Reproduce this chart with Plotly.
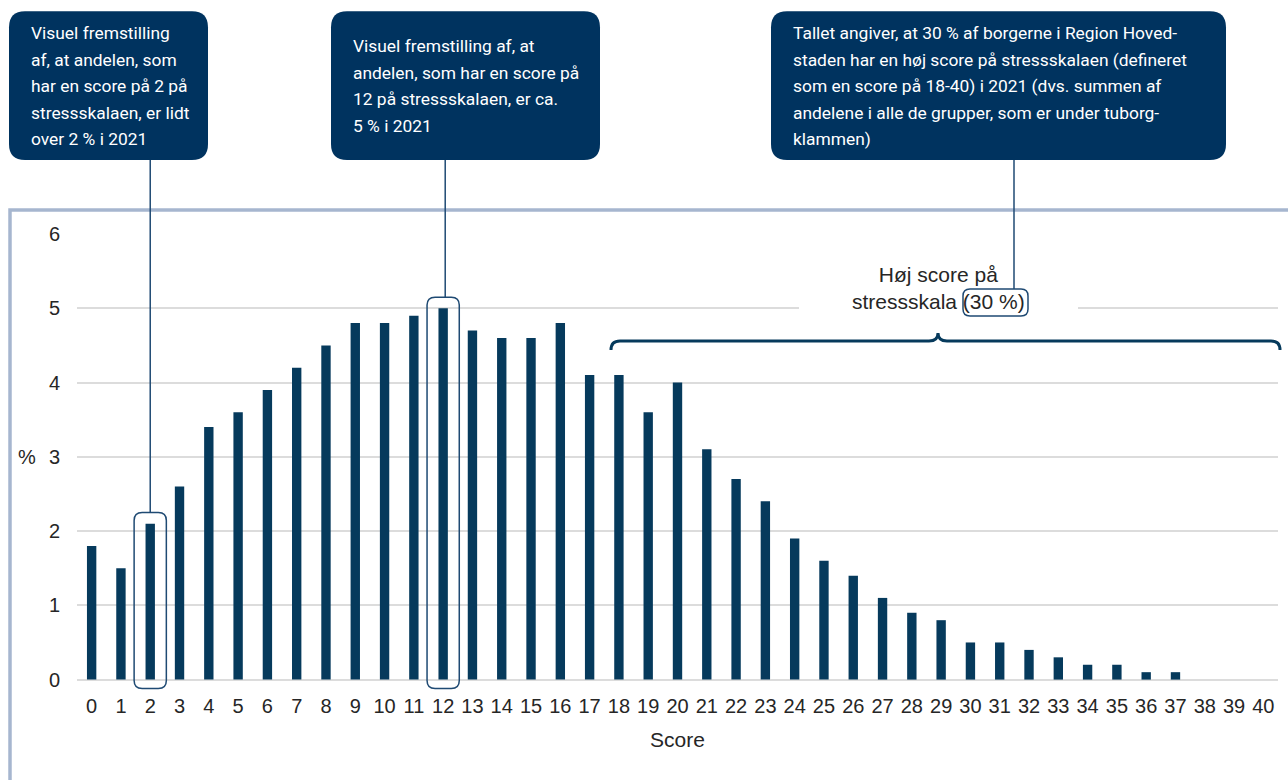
import plotly.graph_objects as go

# Share of respondents (%) by score on the stress scale, 2021
scores = list(range(0, 41))
shares = [1.8, 1.5, 2.1, 2.6, 3.4, 3.6, 3.9, 4.2, 4.5, 4.8,
          4.8, 4.9, 5.0, 4.7, 4.6, 4.6, 4.8, 4.1, 4.1, 3.6,
          4.0, 3.1, 2.7, 2.4, 1.9, 1.6, 1.4, 1.1, 0.9, 0.8,
          0.5, 0.5, 0.4, 0.3, 0.2, 0.2, 0.1, 0.1, 0.0, 0.0, 0.0]
y_ticks = [0, 1, 2, 3, 4, 5, 6]
high_from = 18
high_total = 30

box1_lines = ["Visuel fremstilling", "af, at andelen, som", "har en score på 2 på",
              "stressskalaen, er lidt", "over 2 % i 2021"]
box2_lines = ["Visuel fremstilling af, at", "andelen, som har en score på",
              "12 på stressskalaen, er ca.", "5 % i 2021"]
box3_lines = ["Tallet angiver, at 30 % af borgerne i Region Hoved-",
              "staden har en høj score på stressskalaen (defineret",
              "som en score på 18-40) i 2021 (dvs. summen af",
              "andelene i alle de grupper, som er under tuborg-",
              "klammen)"]

W, H = 1288, 780
PL, PR, PT = 77, 1278, 234
Y_MIN, Y_MAX = -0.14, 6.0
UNIT = 446 / 6.0
PB = PT + (Y_MAX - Y_MIN) * UNIT
X_UNIT = (PR - PL) / 41.0

BAR = "#063a5c"
NAVY = "#00335f"
LINE = "#1f4a73"
FRAME = "#a6b6cf"
GRID = "#dcdcdc"
TXT = "#262626"
FONT = "Liberation Sans, Arial"


def px(x):
    return (x - PL) / (PR - PL)


def py(y):
    return (PB - y) / (PB - PT)


def data_to_paper_y(v):
    return (v - Y_MIN) / (Y_MAX - Y_MIN)


def rounded(x0, y0, x1, y1, rx, ry, X=lambda v: v, Y=lambda v: v):
    """Closed rounded-rectangle path from corner (x0,y0) to opposite corner (x1,y1).
    rx/ry are signed so the corners curve inwards whatever the axis direction."""
    sx = rx if x1 > x0 else -rx
    sy = ry if y1 > y0 else -ry
    return (f"M {X(x0 + sx)},{Y(y0)} L {X(x1 - sx)},{Y(y0)} Q {X(x1)},{Y(y0)} {X(x1)},{Y(y0 + sy)} "
            f"L {X(x1)},{Y(y1 - sy)} Q {X(x1)},{Y(y1)} {X(x1 - sx)},{Y(y1)} "
            f"L {X(x0 + sx)},{Y(y1)} Q {X(x0)},{Y(y1)} {X(x0)},{Y(y1 - sy)} "
            f"L {X(x0)},{Y(y0 + sy)} Q {X(x0)},{Y(y0)} {X(x0 + sx)},{Y(y0)} Z")


fig = go.Figure()
fig.add_trace(go.Bar(
    x=scores, y=shares, marker=dict(color=BAR, line=dict(width=0)),
    width=0.32, hoverinfo="x+y", showlegend=False,
))

shapes = []
annotations = []

# Outer frame around the chart
shapes.append(dict(type="rect", xref="paper", yref="paper",
                   x0=px(10), x1=px(1310), y0=py(210), y1=py(810),
                   line=dict(color=FRAME, width=3.5), layer="below"))

# Callout boxes with text
boxes = [
    (9, 11, 208, 160, 29, [33, 60, 86, 113, 139], box1_lines),
    (331, 11, 600, 160, 351, [46, 73, 99, 126], box2_lines),
    (771, 11, 1226, 160, 791, [33, 60, 86, 113, 139], box3_lines),
]
for x0, y0, x1, y1, tx, ys, lines in boxes:
    shapes.append(dict(type="path", xref="paper", yref="paper",
                       path=rounded(x0, y0, x1, y1, 16, 16, px, py),
                       fillcolor=NAVY, line=dict(width=0), layer="above"))
    for yy, t in zip(ys, lines):
        annotations.append(dict(xref="paper", yref="paper", x=px(tx), y=py(yy),
                                xanchor="left", yanchor="middle", text=t, showarrow=False,
                                font=dict(family="Roboto", size=17.4, color="white")))

# Highlight rectangles around bars 2 and 12, with connector lines up to their boxes
rx_data = 8 / X_UNIT
ry_data = 8 / UNIT
for cat, dx in ((2, 0.0), (12, 0.07)):
    top = shares[cat] + 0.15
    shapes.append(dict(type="path", xref="x", yref="y",
                       path=rounded(cat - 0.55, top, cat + 0.55, -0.12, rx_data, ry_data),
                       line=dict(color=LINE, width=1.5), layer="above"))
    shapes.append(dict(type="line", xref="x", yref="paper",
                       x0=cat + dx, x1=cat + dx,
                       y0=py(160), y1=data_to_paper_y(top),
                       line=dict(color=LINE, width=1.5), layer="above"))

# White band behind the high-score label
shapes.append(dict(type="rect", xref="paper", yref="paper",
                   x0=px(799), x1=px(1078), y0=py(320), y1=py(260),
                   fillcolor="white", line=dict(width=0), layer="above"))
annotations.append(dict(xref="paper", yref="paper", x=px(938), y=py(288),
                        xanchor="center", yanchor="middle",
                        text=f"Høj score på<br>stressskala ({high_total} %)",
                        showarrow=False,
                        font=dict(family=FONT, size=21, color=TXT)))

# Outline round the total and its connector to the right-hand box
shapes.append(dict(type="path", xref="paper", yref="paper",
                   path=rounded(963, 289, 1028, 316, 7, 7, px, py),
                   line=dict(color=LINE, width=1.5), layer="above"))
shapes.append(dict(type="line", xref="paper", yref="paper",
                   x0=px(1014), x1=px(1014), y0=py(160), y1=py(289),
                   line=dict(color=LINE, width=1.5), layer="above"))

# Curly brace spanning the high-score group (scores 18-40)
bl, br, bm = 611, 1280, 938
by, bt, bb = 341, 333, 350
brace = (f"M {px(bl)},{py(bb)} Q {px(bl)},{py(by)} {px(bl + 9)},{py(by)} "
         f"L {px(bm - 9)},{py(by)} Q {px(bm)},{py(by)} {px(bm)},{py(bt)} "
         f"Q {px(bm)},{py(by)} {px(bm + 9)},{py(by)} "
         f"L {px(br - 9)},{py(by)} Q {px(br)},{py(by)} {px(br)},{py(bb)}")
shapes.append(dict(type="path", xref="paper", yref="paper", path=brace,
                   line=dict(color=BAR, width=3), layer="above"))

# Horizontal "%" axis label
annotations.append(dict(xref="paper", yref="y", x=px(27), y=3, xanchor="center",
                        yanchor="middle", text="%", showarrow=False,
                        font=dict(family=FONT, size=20, color=TXT)))

fig.update_layout(
    width=W, height=H,
    margin=dict(l=PL, r=W - PR, t=PT, b=H - PB, pad=0),
    plot_bgcolor="white", paper_bgcolor="white",
    shapes=shapes, annotations=annotations,
    font=dict(family=FONT, size=20, color=TXT),
    xaxis=dict(range=[-0.5, 40.5], tickmode="array", tickvals=scores,
               ticktext=[str(s) for s in scores], showgrid=False, zeroline=False,
               showline=False, ticks="", ticklabelstandoff=2,
               tickfont=dict(size=20, color=TXT),
               title=dict(text="Score", font=dict(size=21, color=TXT), standoff=16),
               fixedrange=True),
    yaxis=dict(range=[Y_MIN, Y_MAX], tickmode="array", tickvals=y_ticks,
               showgrid=True, gridcolor=GRID, gridwidth=2, zeroline=False,
               showline=False, ticks="", ticklabelstandoff=16,
               tickfont=dict(size=20, color=TXT), fixedrange=True),
)

fig.write_html("out.html")
